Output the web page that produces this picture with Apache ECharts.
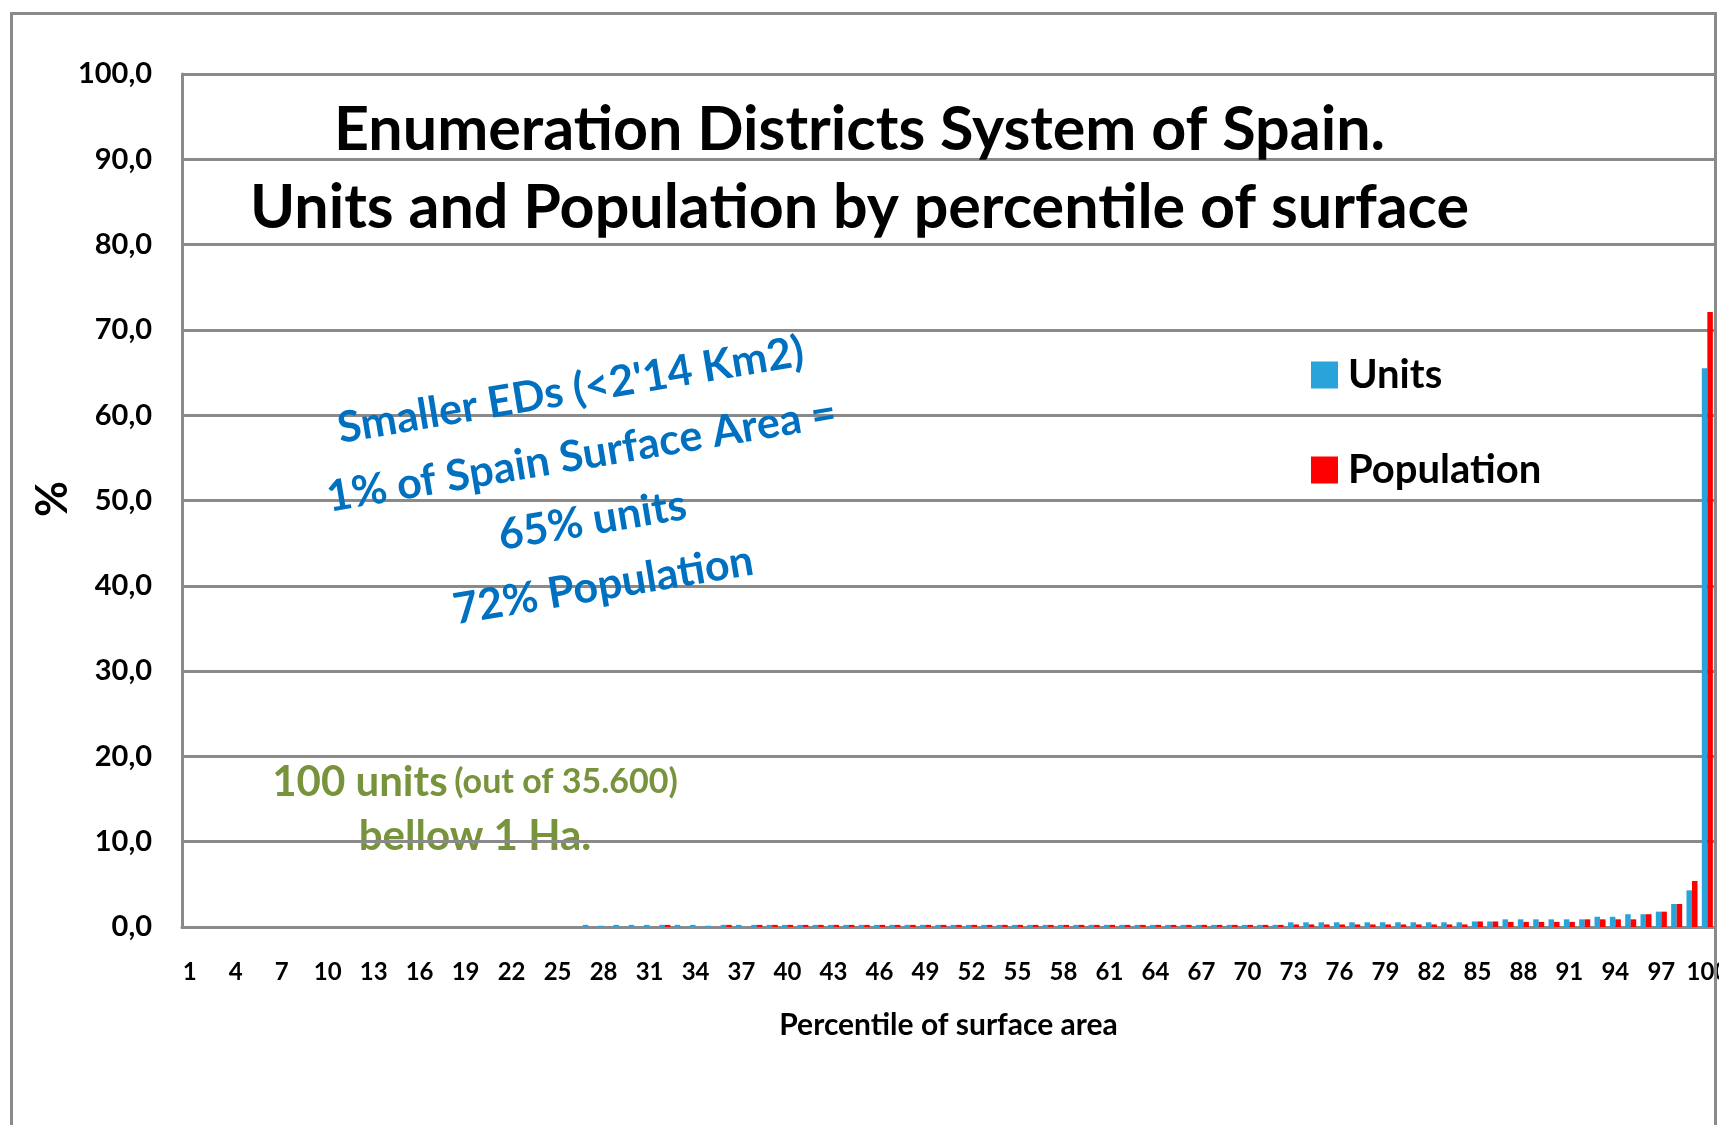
<!DOCTYPE html>
<html>
<head>
<meta charset="utf-8">
<title>Enumeration Districts System of Spain</title>
<script src="https://cdn.jsdelivr.net/npm/echarts@6.0.0/dist/echarts.min.js"></script>
<style>
html,body{margin:0;padding:0;background:#fff;}
#chart{width:1719px;height:1125px;}
</style>
</head>
<body>
<div id="chart"></div>
<script>
//percentile categories 1..100
var percentiles = [];
for (var i = 1; i <= 100; i++) {
	percentiles.push(String(i));
}

//% of units (enumeration districts) in each percentile of surface
var units = [
	0, 0, 0, 0, 0, 0, 0, 0, 0, 0,
	0, 0, 0, 0, 0, 0, 0, 0, 0, 0,
	0, 0, 0, 0, 0, 0, 0.25, 0.15, 0.25, 0.25,
	0.25, 0.25, 0.25, 0.25, 0.15, 0.25, 0.25, 0.25, 0.25, 0.25,
	0.25, 0.25, 0.25, 0.25, 0.25, 0.25, 0.25, 0.25, 0.25, 0.25,
	0.25, 0.25, 0.25, 0.25, 0.25, 0.25, 0.25, 0.25, 0.25, 0.25,
	0.25, 0.25, 0.25, 0.25, 0.25, 0.25, 0.25, 0.25, 0.25, 0.25,
	0.25, 0.25, 0.55, 0.55, 0.55, 0.55, 0.55, 0.55, 0.55, 0.55,
	0.55, 0.55, 0.55, 0.55, 0.65, 0.65, 0.9, 0.9, 0.9, 0.9,
	0.9, 0.9, 1.2, 1.2, 1.5, 1.5, 1.8, 2.7, 4.3, 65.5
];

//% of population in each percentile of surface
var population = [
	0, 0, 0, 0, 0, 0, 0, 0, 0, 0,
	0, 0, 0, 0, 0, 0, 0, 0, 0, 0,
	0, 0, 0, 0, 0, 0, 0, 0, 0, 0,
	0, 0.25, 0, 0, 0, 0.25, 0, 0.25, 0.25, 0.25,
	0.25, 0.25, 0.25, 0.25, 0.25, 0.25, 0.25, 0.25, 0.25, 0.25,
	0.25, 0.25, 0.25, 0.25, 0.25, 0.25, 0.25, 0.25, 0.25, 0.25,
	0.25, 0.25, 0.25, 0.25, 0.25, 0.25, 0.25, 0.25, 0.25, 0.25,
	0.25, 0.25, 0.3, 0.3, 0.3, 0.3, 0.3, 0.3, 0.3, 0.3,
	0.3, 0.3, 0.3, 0.3, 0.65, 0.65, 0.6, 0.6, 0.6, 0.6,
	0.6, 0.9, 0.9, 0.9, 0.9, 1.5, 1.8, 2.7, 5.4, 72.1
];

var seriesNames = ['Units', 'Population'];
var colors = ['#29a3da', '#ff0000'];
var gridColor = '#8a8a8a';
var fontName = 'Lato';

var myChart = echarts.init(document.getElementById('chart'));

var option = {
	animation: false,
	backgroundColor: '#fff',
	textStyle: {
		fontFamily: fontName
	},
	title: {
		text: 'Enumeration Districts System of Spain.\nUnits and Population by percentile of surface',
		left: 'center',
		top: 86,
		textStyle: {
			fontFamily: fontName,
			fontSize: 61,
			fontWeight: 'bold',
			color: '#000',
			lineHeight: 78
		}
	},
	legend: {
		data: seriesNames,
		orient: 'vertical',
		left: 1306,
		top: 350,
		icon: 'rect',
		itemWidth: 27,
		itemHeight: 27,
		itemGap: 55,
		selectedMode: false,
		textStyle: {
			fontFamily: fontName,
			fontSize: 40,
			fontWeight: 'bold',
			color: '#000',
			lineHeight: 40,
			padding: [0, 0, 0, 5]
		}
	},
	grid: {
		left: 182,
		top: 74,
		right: 4,
		bottom: 198,
		containLabel: false,
		outerBoundsMode: 'none'
	},
	xAxis: {
		type: 'category',
		data: percentiles,
		name: 'Percentile of surface area',
		nameLocation: 'middle',
		nameGap: 83,
		nameTextStyle: {
			fontFamily: fontName,
			fontSize: 30,
			fontWeight: 'bold',
			color: '#000'
		},
		axisLine: {
			lineStyle: { color: gridColor, width: 3 }
		},
		axisTick: { show: false },
		axisLabel: {
			interval: 2,
			margin: 33,
			fontFamily: fontName,
			fontSize: 24,
			fontWeight: 'bold',
			color: '#000'
		},
		splitLine: { show: false }
	},
	yAxis: {
		type: 'value',
		min: 0,
		max: 100,
		interval: 10,
		axisLine: {
			show: true,
			lineStyle: { color: gridColor, width: 3 }
		},
		axisTick: { show: false },
		axisLabel: {
			margin: 30,
			fontFamily: fontName,
			fontSize: 29,
			fontWeight: 'bold',
			color: '#000',
			formatter: function(value) {
				return value.toFixed(1).replace('.', ',');
			}
		},
		splitLine: {
			lineStyle: { color: gridColor, width: 3 }
		}
	},
	series: [{
		name: seriesNames[0],
		type: 'bar',
		data: units,
		barGap: '0%',
		barCategoryGap: '28%',
		itemStyle: { color: colors[0] }
	}, {
		name: seriesNames[1],
		type: 'bar',
		data: population,
		itemStyle: { color: colors[1] }
	}],
	graphic: [{
		//chart frame
		type: 'rect',
		shape: { x: 11.5, y: 13.5, width: 1704, height: 1200 },
		style: { fill: 'none', stroke: gridColor, lineWidth: 3 },
		z: 10
	}, {
		//y axis name
		type: 'text',
		x: 53,
		y: 499,
		rotation: Math.PI / 2,
		style: {
			text: '%',
			fontFamily: fontName,
			fontSize: 44,
			fontWeight: 'bold',
			fill: '#000',
			align: 'center',
			verticalAlign: 'middle'
		}
	}, {
		//blue note
		type: 'text',
		x: 587,
		y: 488,
		rotation: 9.5 * Math.PI / 180,
		z: 100,
		style: {
			text: "Smaller EDs (<2'14 Km2)\n1% of Spain Surface Area =\n65% units\n72% Population",
			fontFamily: fontName,
			fontSize: 43,
			fontWeight: 'bold',
			fill: '#0070c0',
			align: 'center',
			verticalAlign: 'middle',
			lineHeight: 66
		}
	}, {
		//green note
		type: 'text',
		x: 475,
		y: 809,
		z: 0,
		style: {
			text: '{a|100 units}  {b|(out of 35.600)}\n{a|bellow 1 Ha.}',
			align: 'center',
			verticalAlign: 'middle',
			rich: {
				a: {
					fontFamily: fontName,
					fontSize: 42,
					fontWeight: 'bold',
					fill: '#77933c',
					lineHeight: 54
				},
				b: {
					fontFamily: fontName,
					fontSize: 34,
					fontWeight: 'bold',
					fill: '#77933c',
					lineHeight: 54
				}
			}
		}
	}]
};

myChart.setOption(option);
</script>
</body>
</html>
